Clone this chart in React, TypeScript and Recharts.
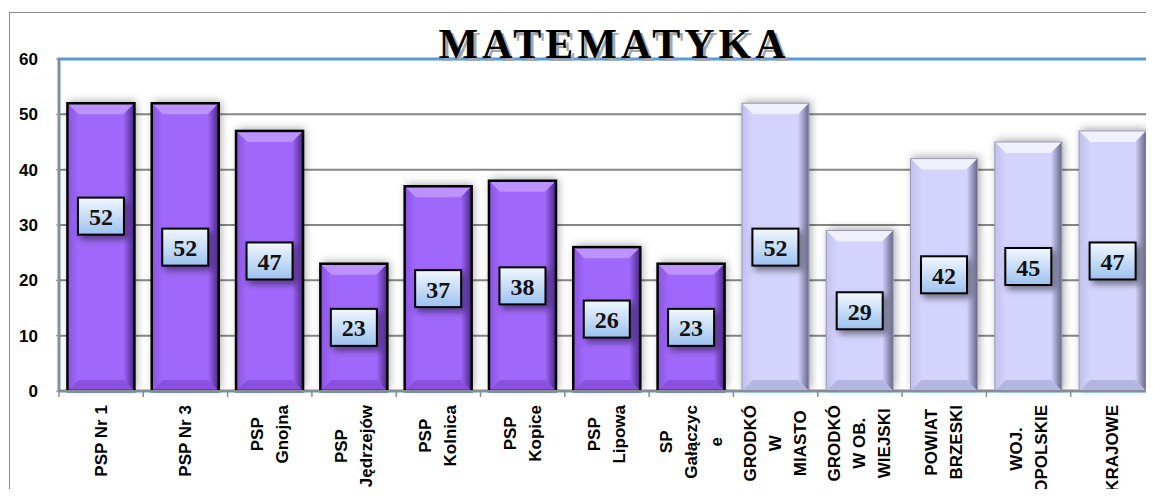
import React from 'react';
import { BarChart, Bar, XAxis, YAxis, CartesianGrid, ReferenceArea, LabelList } from 'recharts';

// category labels, with the line breaks the original wraps them at
const categories = [
  'PSP Nr 1',
  'PSP Nr 3',
  'PSP\nGnojna',
  'PSP\nJędrzejów',
  'PSP\nKolnica',
  'PSP\nKopice',
  'PSP\nLipowa',
  'SP\nGałączyc\ne',
  'GRODKÓ\nW\nMIASTO',
  'GRODKÓ\nW OB.\nWIEJSKI',
  'POWIAT\nBRZESKI',
  'WOJ.\nOPOLSKIE',
  'KRAJOWE',
];
const scores = [52, 52, 47, 23, 37, 38, 26, 23, 52, 29, 42, 45, 47];
// first 8 are schools, the rest are area averages
const kinds = ['school', 'school', 'school', 'school', 'school', 'school', 'school', 'school',
  'area', 'area', 'area', 'area', 'area'];
const yTicks = [0, 10, 20, 30, 40, 50, 60];

const data = categories.map((name, i) => ({ name, value: scores[i], kind: kinds[i] }));

const BAND = 1096 / categories.length;
const TICK_FONT = "bold 17px 'Liberation Sans', Arial, sans-serif";

let ctx: CanvasRenderingContext2D | null = null;
const measure = (s: string) => {
  if (!ctx) ctx = document.createElement('canvas').getContext('2d');
  if (!ctx) return s.length * 9;
  ctx.font = TICK_FONT;
  return ctx.measureText(s).width;
};

const BevelBar = (props: any) => {
  const { x, y, width: w, height: h, index, payload } = props;
  if (!w || !h) return null;
  const school = payload.kind === 'school';
  const b = 11;
  const id = `bb${index}`;
  const base = school ? '#a068fa' : '#d3d3fd';
  const topC = school ? '#bd92ff' : '#f0f0ff';
  const dark = school ? '#4a2585' : '#66668a';
  const bottomC = school ? '#8a50e0' : '#b5b5e4';
  return (
    <g>
      <defs>
        <filter id={`sh${id}`} x="-30%" y="-20%" width="160%" height="140%">
          <feDropShadow dx="2" dy="-2" stdDeviation="4" floodColor="#000" floodOpacity="0.35" />
        </filter>
        <linearGradient id={`rs${id}`} x1="0" y1="0" x2="1" y2="0">
          <stop offset="0%" stopColor={base} />
          <stop offset="100%" stopColor={dark} />
        </linearGradient>
        <linearGradient id={`ls${id}`} x1="0" y1="0" x2="1" y2="0">
          <stop offset="0%" stopColor={school ? '#7b45cc' : '#b4b4e0'} />
          <stop offset="100%" stopColor={base} />
        </linearGradient>
      </defs>
      <rect x={x} y={y} width={w} height={h} fill={base} filter={`url(#sh${id})`} />
      <polygon points={`${x},${y} ${x + w},${y} ${x + w - b},${y + b} ${x + b},${y + b}`} fill={topC} />
      <polygon points={`${x + w},${y} ${x + w},${y + h} ${x + w - b},${y + h - b} ${x + w - b},${y + b}`} fill={`url(#rs${id})`} />
      <polygon points={`${x},${y} ${x + b},${y + b} ${x + b},${y + h - b} ${x},${y + h}`} fill={`url(#ls${id})`} opacity={0.6} />
      <polygon points={`${x},${y + h} ${x + b},${y + h - b} ${x + w - b},${y + h - b} ${x + w},${y + h}`} fill={bottomC} />
      <rect x={x} y={y} width={w} height={h} fill="none"
        stroke={school ? '#000' : '#9a9ab8'} strokeWidth={school ? 2.5 : 1} />
    </g>
  );
};

const ValueBox = (props: any) => {
  const { x, y, width, height, value, index } = props;
  const cx = x + width / 2;
  // the first label was moved up in the original
  const cy = y + height / 2 + (index === 0 ? -31 : 0);
  const bw = 46;
  const bh = 37;
  const id = `vb${index}`;
  return (
    <g>
      <defs>
        <linearGradient id={`g${id}`} x1="0" y1="0" x2="0" y2="1">
          <stop offset="0%" stopColor="#f2f7fd" />
          <stop offset="100%" stopColor="#9cc2f0" />
        </linearGradient>
        <filter id={`s${id}`} x="-30%" y="-30%" width="170%" height="180%">
          <feDropShadow dx="3" dy="4" stdDeviation="3" floodColor="#000" floodOpacity="0.45" />
        </filter>
      </defs>
      <rect x={cx - bw / 2} y={cy - bh / 2} width={bw} height={bh} fill={`url(#g${id})`}
        stroke="#000" strokeWidth={2} filter={`url(#s${id})`} />
      <text x={cx} y={cy + 1} textAnchor="middle" dominantBaseline="central"
        fontFamily="'Liberation Serif', serif" fontWeight="bold" fontSize={24} fill="#111">
        {value}
      </text>
    </g>
  );
};

const CategoryTick = (props: any) => {
  const { x, y, payload } = props;
  const lines = String(payload.value).split('\n');
  const longest = Math.max(...lines.map(measure));
  // block starts just under the axis, every line centred inside it
  const mid = y + 6 + longest / 2;
  return (
    <g>
      <line x1={x - BAND / 2} y1={y - 8} x2={x - BAND / 2} y2={y - 2} stroke="#8c8c8c" strokeWidth={1.5} />
      <g transform={`translate(${x},${mid}) rotate(-90)`}>
        {lines.map((line, i) => (
          <text key={i} x={0} y={(i - (lines.length - 1) / 2) * 25} textAnchor="middle" dominantBaseline="central"
            fontFamily="'Liberation Sans', Arial, sans-serif" fontWeight="bold" fontSize={17} fill="#000">
            {line}
          </text>
        ))}
      </g>
    </g>
  );
};

const App: React.FC = () => {
  return (
    <div style={{ position: 'relative', width: 1154, height: 497, margin: -8, overflow: 'hidden', background: '#fff' }}>
      <div style={{
        position: 'absolute', left: 9, top: 12, width: 1200, height: 600,
        borderLeft: '1.5px solid #8a8a8a', borderTop: '1.5px solid #8a8a8a',
      }} />
      <BarChart width={1160} height={497} data={data}
        margin={{ top: 59, right: 5, bottom: 0, left: 0 }} barCategoryGap="10%">
        <CartesianGrid vertical={false} stroke="#868686" strokeWidth={2} />
        <ReferenceArea y1={0} y2={60} fill="none" stroke="#5b9bd5" strokeWidth={3} ifOverflow="visible" />
        <YAxis domain={[0, 60]} ticks={yTicks} width={59} axisLine={{ stroke: '#8c8c8c', strokeWidth: 2 }}
          tickSize={3} tickMargin={18} tickLine={{ stroke: '#8c8c8c' }}
          tick={{ fontFamily: "'Liberation Sans', Arial, sans-serif", fontWeight: 'bold', fontSize: 17, fill: '#000' }} />
        <XAxis dataKey="name" height={106} interval={0} tickLine={false}
          axisLine={{ stroke: '#8c8c8c', strokeWidth: 2 }} tick={<CategoryTick />} />
        <Bar dataKey="value" shape={<BevelBar />} isAnimationActive={false}>
          <LabelList dataKey="value" content={<ValueBox />} />
        </Bar>
      </BarChart>
      <div style={{
        position: 'absolute', left: 0, width: 1228, top: 22, textAlign: 'center',
        fontFamily: "'Liberation Serif', serif", fontWeight: 'bold', fontSize: 42, letterSpacing: 4,
        color: '#000', textShadow: '3px 3px 0 #a6a6a6', lineHeight: '44px',
      }}>
        MATEMATYKA
      </div>
    </div>
  );
};

export default App;
